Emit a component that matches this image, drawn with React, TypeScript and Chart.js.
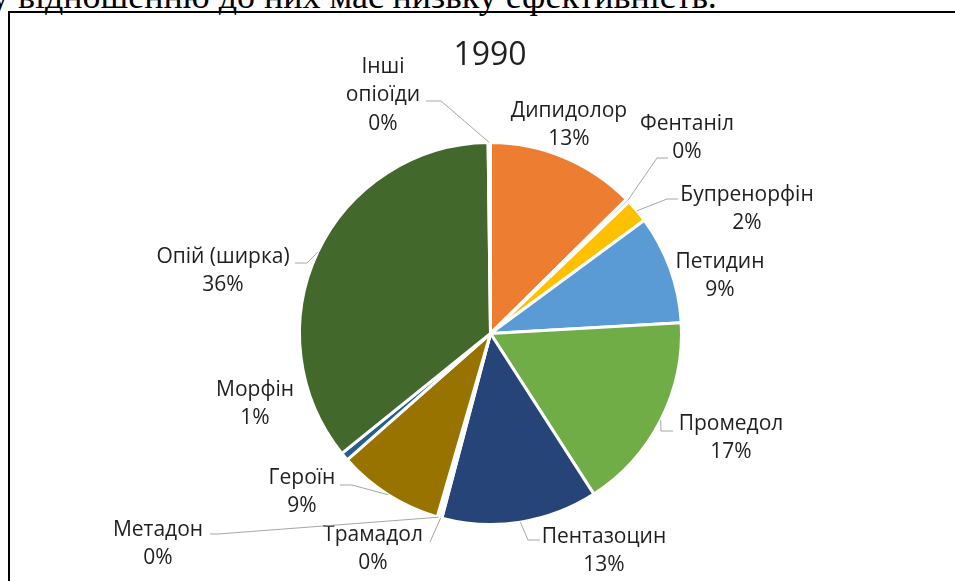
import React, { useEffect, useRef } from "react";
import { Chart, registerables } from "chart.js";

Chart.register(...registerables);

const TITLE = "1990";
const PAGE_TEXT = "у відношенню до них має низьку ефективність.";

const CATEGORIES = [
  "Дипидолор",
  "Фентаніл",
  "Бупренорфін",
  "Петидин",
  "Промедол",
  "Пентазоцин",
  "Трамадол",
  "Метадон",
  "Героїн",
  "Морфін",
  "Опій (ширка)",
  "Інші\nопіоїди",
];

const VALUES = [12.6, 0.3, 2.0, 9.2, 16.8, 13.2, 0.2, 0.2, 9.0, 0.7, 35.6, 0.2];

const COLORS = [
  "#ED7D31",
  "#A5A5A5",
  "#FFC000",
  "#5B9BD5",
  "#70AD47",
  "#264478",
  "#9E480E",
  "#636363",
  "#997300",
  "#255E91",
  "#43682B",
  "#4472C4",
];

// label layout (text centre of first line, leader polyline from slice edge)
type Layout = { cx: number; cy: number; leader: number[][] | null };
const LABEL_LAYOUT: Layout[] = [
  { cx: 569, cy: 111, leader: null },
  { cx: 687, cy: 124, leader: [[657, 158], [668, 158]] },
  { cx: 747, cy: 195, leader: [[667, 199], [678, 199]] },
  { cx: 720, cy: 262, leader: null },
  { cx: 731, cy: 424, leader: [[661, 431], [673, 431]] },
  { cx: 604, cy: 537, leader: [[528, 540], [540, 540]] },
  { cx: 373, cy: 535, leader: [[430, 542]] },
  { cx: 158, cy: 530, leader: [[218, 534], [210, 534]] },
  { cx: 302, cy: 478, leader: [[352, 485], [340, 485]] },
  { cx: 255, cy: 390, leader: null },
  { cx: 223, cy: 257, leader: [[307, 263], [295, 263]] },
  { cx: 383, cy: 67, leader: [[441, 101], [426, 101]] },
];

const LABEL_FONT = '21px "Open Sans"';
const TITLE_FONT = '32px "Open Sans"';
const LINE_H = 28.5;
const TEXT_COLOR = "#1f1f1f";

const labelPlugin = {
  id: "pieLabels",
  afterDatasetsDraw(chart: any) {
    const ctx = chart.ctx as CanvasRenderingContext2D;
    const meta = chart.getDatasetMeta(0);
    const data = chart.data.datasets[0].data as number[];
    const total = data.reduce((a, b) => a + b, 0);
    ctx.save();
    // title
    ctx.fillStyle = TEXT_COLOR;
    ctx.font = TITLE_FONT;
    ctx.textAlign = "center";
    ctx.textBaseline = "middle";
    ctx.fillText(TITLE, 490, 56);

    meta.data.forEach((arc: any, i: number) => {
      const p = arc.getProps(["x", "y", "startAngle", "endAngle", "outerRadius"], true);
      const mid = (p.startAngle + p.endAngle) / 2;
      const ax = p.x + Math.cos(mid) * p.outerRadius;
      const ay = p.y + Math.sin(mid) * p.outerRadius;
      const lay = LABEL_LAYOUT[i];
      if (lay.leader) {
        ctx.beginPath();
        ctx.strokeStyle = "#A6A6A6";
        ctx.lineWidth = 1;
        ctx.moveTo(ax, ay);
        lay.leader.forEach(([x, y]) => ctx.lineTo(x, y));
        ctx.stroke();
      }
      const lines = [...String(chart.data.labels[i]).split("\n"), Math.round((data[i] / total) * 100) + "%"];
      ctx.fillStyle = TEXT_COLOR;
      ctx.font = LABEL_FONT;
      ctx.textAlign = "center";
      ctx.textBaseline = "middle";
      lines.forEach((t, k) => ctx.fillText(t, lay.cx, lay.cy + k * LINE_H));
    });
    ctx.restore();
  },
};

export default function App() {
  const ref = useRef<HTMLCanvasElement>(null);
  useEffect(() => {
    if (!ref.current) return;
    const chart = new Chart(ref.current, {
      type: "pie",
      data: {
        labels: CATEGORIES,
        datasets: [
          {
            data: VALUES,
            backgroundColor: COLORS,
            borderColor: "#ffffff",
            borderWidth: 3,
          },
        ],
      },
      options: {
        responsive: false,
        animation: false,
        devicePixelRatio: 1,
        layout: { padding: { left: 298, right: 272, top: 141, bottom: 55 } },
        plugins: { legend: { display: false }, tooltip: { enabled: false }, title: { display: false } },
      },
      plugins: [labelPlugin],
    });
    return () => chart.destroy();
  }, []);

  return (
    <div style={{ position: "fixed", left: 0, top: 0, width: 955, height: 581, overflow: "hidden", background: "#fff" }}>
      <div
        style={{
          position: "absolute",
          left: -9,
          top: -22,
          fontFamily: '"Liberation Serif", serif',
          fontSize: 36,
          lineHeight: "36px",
          whiteSpace: "nowrap",
          color: "#000",
        }}
      >
        {PAGE_TEXT}
      </div>
      <div
        style={{
          position: "absolute",
          left: 8,
          top: 11,
          width: 1000,
          height: 700,
          borderLeft: "2px solid #000",
          borderTop: "2px solid #000",
        }}
      />
      <canvas ref={ref} width={955} height={581} style={{ position: "absolute", left: 0, top: 0 }} />
    </div>
  );
}
